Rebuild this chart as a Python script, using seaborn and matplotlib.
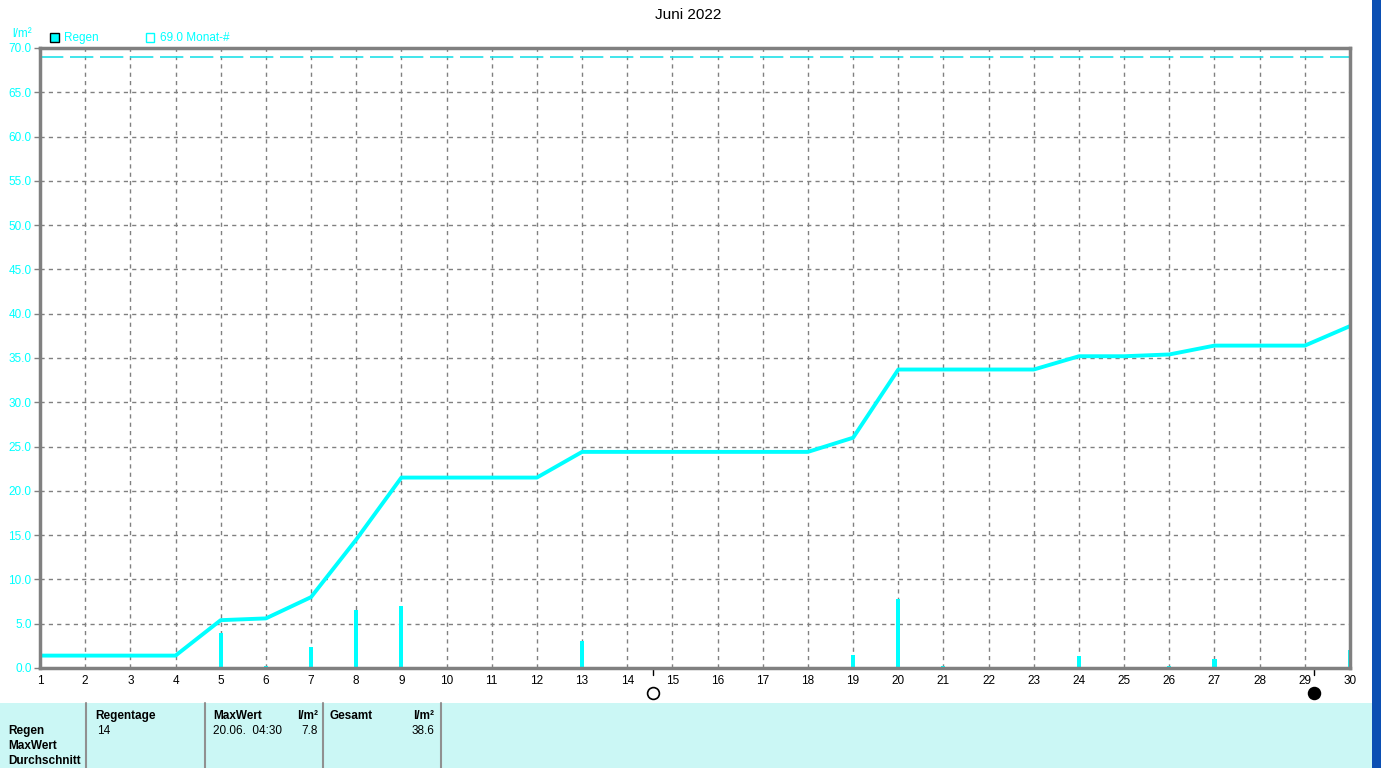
import numpy as np
import pandas as pd
import matplotlib
matplotlib.use("Agg")
import matplotlib.pyplot as plt
import matplotlib.patches as mpatches
import seaborn as sns

# Tage im Juni 2022
tage = list(range(1, 31))
# Tagesregen in l/m²
regen_tag = [1.4, 0, 0, 0, 4.0, 0.2, 2.4, 6.5, 7.0, 0, 0, 0, 3.0, 0, 0,
             0, 0, 0, 1.5, 7.8, 0.2, 0, 0, 1.4, 0, 0.2, 1.0, 0, 0, 2.0]
# Monatssumme (kumuliert)
regen_summe = [1.4, 1.4, 1.4, 1.4, 5.4, 5.6, 8.0, 14.5, 21.5, 21.5, 21.5, 21.5,
               24.4, 24.4, 24.4, 24.4, 24.4, 24.4, 26.0, 33.7, 33.7, 33.7, 33.7,
               35.2, 35.2, 35.4, 36.4, 36.4, 36.4, 38.6]
monat_mittel = 69.0
y_ticks = [0, 5, 10, 15, 20, 25, 30, 35, 40, 45, 50, 55, 60, 65, 70]
# Mondphasen (Vollmond 14.06. 13:52, Neumond 29.06. 04:52)
mond_pos = [14.58, 29.2]
mond_fill = ["none", "black"]

# Tabelle unten
tab_zeilen = ["Regen", "MaxWert", "Durchschnitt"]
regentage = "14"
max_datum = "20.06.  04:30"
max_wert = "7.8"
gesamt = "38.6"

df = pd.DataFrame({"tag": tage, "regen": regen_tag, "summe": regen_summe})

W, H = 1381, 768
fig = plt.figure(figsize=(W / 100, H / 100), dpi=100)
sns.set_style("white")
plt.rcParams["font.family"] = ["Liberation Sans", "DejaVu Sans"]

cyan = "#00ffff"
grau = "#808080"
fs = 8.5

ax = fig.add_axes([40 / W, 1 - 668 / H, (1350 - 40) / W, (668 - 48) / H])

sns.barplot(data=df, x="tag", y="regen", native_scale=True, width=0.09,
            color=cyan, saturation=1, edgecolor=cyan, linewidth=0, ax=ax)
sns.lineplot(data=df, x="tag", y="summe", color=cyan, linewidth=2.8, ax=ax)
ax.axhline(monat_mittel, color="#20e0e8", lw=1.2, dashes=(14, 4))

ax.set_xlim(1, 30)
ax.set_ylim(0, 70)
ax.set_xticks(tage)
ax.set_xticklabels([str(t) for t in tage], fontsize=fs, color="black")
ax.set_yticks(y_ticks)
ax.set_yticklabels([f"{v:.1f}" for v in y_ticks], fontsize=fs, color=cyan)
ax.tick_params(axis="x", length=0, pad=5)
ax.tick_params(axis="y", length=4, width=1, color=grau, pad=2, left=True)
ax.grid(True, color=grau, linestyle=(0, (3, 3)), linewidth=1)
for s in ax.spines.values():
    s.set_color(grau)
    s.set_linewidth(2.5)
ax.set_xlabel("")
ax.set_ylabel("")

# Mondphasen unter der Achse
for xp, fc in zip(mond_pos, mond_fill):
    ax.plot([xp, xp], [0, -0.011], transform=ax.get_xaxis_transform(),
            color="black", lw=1, clip_on=False)
    ax.plot([xp], [-0.04], transform=ax.get_xaxis_transform(), marker="o",
            ms=8.5, mfc=fc, mec="black", mew=1.2, clip_on=False)

# Titel, Einheit, Legende
fig.text(688 / W, 1 - 15 / H, "Juni 2022", ha="center", va="center",
         fontsize=11, color="black")
fig.text(12 / W, 1 - 34 / H, "l/m²", ha="left", va="center", fontsize=fs, color=cyan)
fig.patches.append(mpatches.Rectangle((50 / W, 1 - 42 / H), 9 / W, 9 / H,
                                      transform=fig.transFigure, facecolor=cyan,
                                      edgecolor="black", lw=1))
fig.text(64 / W, 1 - 38 / H, "Regen", ha="left", va="center", fontsize=fs, color=cyan)
fig.patches.append(mpatches.Rectangle((146 / W, 1 - 42 / H), 8 / W, 9 / H,
                                      transform=fig.transFigure, facecolor="none",
                                      edgecolor=cyan, lw=1))
fig.text(160 / W, 1 - 38 / H, f"{monat_mittel:.1f} Monat-#", ha="left", va="center",
         fontsize=fs, color=cyan)

# Tabelle unten
fig.patches.append(mpatches.Rectangle((0, 0), 1372 / W, 65 / H,
                                      transform=fig.transFigure,
                                      facecolor="#cbf7f5", edgecolor="none"))
for xs in [86, 205, 323, 441]:
    fig.add_artist(plt.Line2D([xs / W, xs / W], [0, 65 / H], color="#909090", lw=1.5))
for i, z in enumerate(tab_zeilen):
    fig.text(8 / W, 1 - (731 + 15 * i) / H, z, ha="left", va="center",
             fontsize=fs, fontweight="bold", color="black")
kopf = [(95, "Regentage", "left"), (213, "MaxWert", "left"), (318, "l/m²", "right"),
        (330, "Gesamt", "left"), (434, "l/m²", "right")]
for xs, t, ha in kopf:
    fig.text(xs / W, 1 - 716 / H, t, ha=ha, va="center", fontsize=fs,
             fontweight="bold", color="black")
werte = [(97, regentage, "left"), (213, max_datum, "left"), (318, max_wert, "right"),
         (434, gesamt, "right")]
for xs, t, ha in werte:
    fig.text(xs / W, 1 - 731 / H, t, ha=ha, va="center", fontsize=fs, color="black")

# Desktop-Rand rechts
fig.patches.append(mpatches.Rectangle((1372 / W, 0), 9 / W, 1,
                                      transform=fig.transFigure,
                                      facecolor="#0b4fb3", edgecolor="none"))

fig.savefig("out.png", dpi=100)
